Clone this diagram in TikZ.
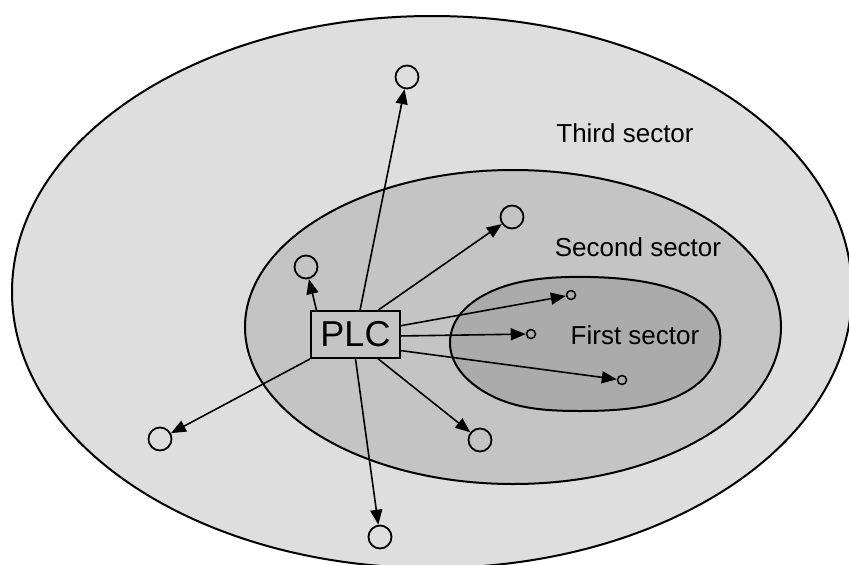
\documentclass[tikz,border=0pt]{standalone}
\usepackage{fontspec}
\setmainfont{Liberation Sans}
\usetikzlibrary{arrows.meta,calc}
\definecolor{outerfill}{gray}{0.87}
\definecolor{midfill}{gray}{0.77}
\definecolor{innerfill}{gray}{0.67}
\tikzset{
  zone/.style={draw=black, line width=2pt},
  arr/.style={line width=1.6pt, -{Triangle[length=15pt,width=12pt]}},
  bignode/.style={circle, draw=black, line width=1.8pt, minimum size=23pt, inner sep=0pt},
  smallnode/.style={circle, draw=black, line width=1.5pt, minimum size=9pt, inner sep=0pt},
  lbl/.style={font=\fontsize{26}{30}\selectfont, inner sep=0pt},
}
\begin{document}
\begin{tikzpicture}[x=1pt,y=-1pt]
\useasboundingbox (0,0) rectangle (849,565);
\fill[white] (0,0) rectangle (849,565);
% Third sector
\draw[zone, fill=outerfill] (432,292) ellipse [x radius=420, y radius=276];
% Second sector
\draw[zone, fill=midfill] (513,327) ellipse [x radius=268, y radius=157];
% First sector
\draw[zone, fill=innerfill] plot[smooth cycle, tension=0.7] coordinates {
  (590,277) (690,296) (720,343) (680,395) (580,411) (490,395) (450,343) (490,292)};

\node[lbl] (third) at (625,133) {Third sector};
\node[lbl] (second) at (638,247) {Second sector};
\node[lbl] (first) at (635,335) {First sector};

\node[draw=black, line width=1.8pt, fill=midfill, minimum width=89pt, minimum height=47pt,
  inner sep=0pt, font=\fontsize{36}{40}\selectfont] (plc) at (355.5,334.5) {PLC};

\node[bignode] (ntop) at (407,77) {};
\node[bignode] (nur) at (512,217) {};
\node[bignode] (nul) at (306,267) {};
\node[bignode] (nll) at (160,439) {};
\node[bignode] (nlr) at (480,440) {};
\node[bignode] (nbot) at (380,537) {};
\node[smallnode] (s1) at (571,295) {};
\node[smallnode] (s2) at (531,334) {};
\node[smallnode] (s3) at (622,380) {};

\coordinate (ptop) at ($(plc.north west)!0.55!(plc.north east)$);
\coordinate (pur) at ($(plc.north west)!0.75!(plc.north east)$);
\coordinate (pul) at ($(plc.north west)!0.07!(plc.north east)$);
\coordinate (plr) at ($(plc.south west)!0.75!(plc.south east)$);
\coordinate (pbot) at ($(plc.south west)!0.5!(plc.south east)$);
\coordinate (ps1) at ($(plc.north east)!0.32!(plc.south east)$);
\coordinate (ps2) at ($(plc.north east)!0.53!(plc.south east)$);
\coordinate (ps3) at ($(plc.north east)!0.83!(plc.south east)$);

\draw[arr] (ptop) -- (ntop);
\draw[arr] (pur) -- (nur);
\draw[arr] (pul) -- (nul);
\draw[arr] (plc.south west) -- (nll);
\draw[arr] (plr) -- (nlr);
\draw[arr] (pbot) -- (nbot);
\draw[arr] (ps1) -- (s1);
\draw[arr] (ps2) -- (s2);
\draw[arr] (ps3) -- (s3);
\end{tikzpicture}
\end{document}
